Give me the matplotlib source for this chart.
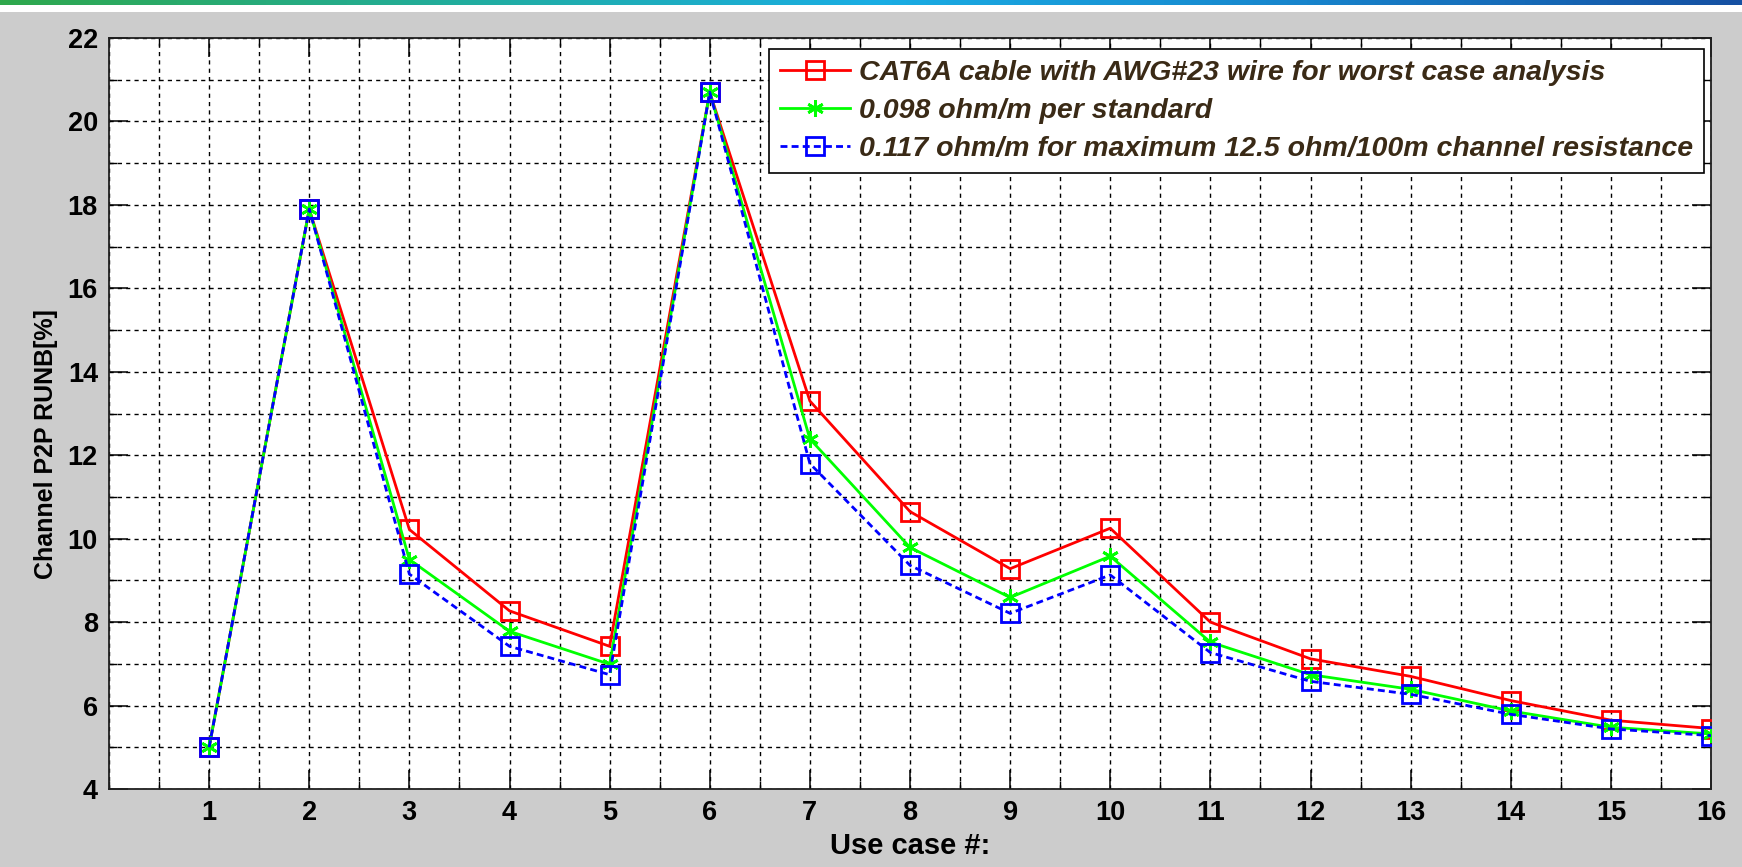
import numpy as np
import matplotlib
matplotlib.use("Agg")
import matplotlib.pyplot as plt
from matplotlib.ticker import MultipleLocator
from matplotlib.colors import LinearSegmentedColormap
from matplotlib.patches import Rectangle

# ---- data ----
cases = list(range(1, 17))
cat6a_awg23 = [5.0, 17.9, 10.22, 8.27, 7.42, 20.7, 13.3, 10.65, 9.28, 10.25, 8.0, 7.12, 6.7, 6.12, 5.65, 5.45]
std_0098 = [5.0, 17.9, 9.5, 7.78, 6.99, 20.7, 12.39, 9.79, 8.59, 9.58, 7.52, 6.74, 6.39, 5.87, 5.48, 5.32]
max_0117 = [5.0, 17.9, 9.15, 7.42, 6.74, 20.7, 11.8, 9.36, 8.21, 9.13, 7.27, 6.58, 6.27, 5.79, 5.44, 5.28]
series_labels = [
    "CAT6A cable with AWG#23 wire for worst case analysis",
    "0.098 ohm/m per standard",
    "0.117 ohm/m for maximum 12.5 ohm/100m channel resistance",
]
x_ticks = list(range(1, 17))
y_ticks = list(range(4, 23, 2))
x_label = "Use case #:"
y_label = "Channel P2P RUNB[%]"

plt.rcParams['font.family'] = ['Liberation Sans', 'DejaVu Sans']
plt.rcParams['font.weight'] = 'bold'
plt.rcParams['lines.scale_dashes'] = False

W, H = 1742, 867
fig = plt.figure(figsize=(W / 100, H / 100), dpi=100, facecolor='#cccccc')

# top gradient band
band = fig.add_axes([0, 1 - 5 / H, 1, 5 / H])
cmap = LinearSegmentedColormap.from_list(
    'band', ['#2fa84c', '#22ad9a', '#1aaee4', '#1784cc', '#1550a2'])
band.imshow(np.linspace(0, 1, 512)[None, :], aspect='auto', cmap=cmap,
            extent=[0, 1, 0, 1])
band.set_axis_off()
fig.patches.append(Rectangle((0, 1 - 12 / H), 1, 7 / H, transform=fig.transFigure,
                             facecolor='white', edgecolor='none', zorder=0))

L, R, T, B = 109, 1711, 38, 789
ax = fig.add_axes([L / W, (H - B) / H, (R - L) / W, (B - T) / H])
ax.set_facecolor('white')

ax.plot(cases, cat6a_awg23, color='#ff0000', lw=2.0, marker='s', ms=13,
        mfc='none', mec='#ff0000', mew=2.0, label=series_labels[0], zorder=3)
ax.plot(cases, std_0098, color='#00ff00', lw=2.0, marker=(6, 2, 0), ms=12,
        mec='#00ff00', mew=2.0, label=series_labels[1], zorder=4)
ax.plot(cases, max_0117, color='#0000ff', lw=2.0, ls=(0, (5, 3)), marker='s', ms=13,
        mfc='none', mec='#0000ff', mew=2.0, label=series_labels[2], zorder=5)

ax.set_xlim(0, 16)
ax.set_ylim(4, 22)
ax.set_xticks(x_ticks)
ax.set_yticks(y_ticks)
ax.xaxis.set_minor_locator(MultipleLocator(0.5))
ax.yaxis.set_minor_locator(MultipleLocator(1))
ax.tick_params(which='major', direction='in', length=14, width=1.1, top=True, right=True,
               labelsize=19.5, pad=8, colors='black')
ax.tick_params(which='minor', direction='in', length=6, width=1.0, top=True, right=True)
ax.grid(which='both', color='black', lw=1.0, ls=(0, (3, 3)))
for s in ax.spines.values():
    s.set_linewidth(1.3)
    s.set_color('#202020')

ax.set_xlabel(x_label, fontsize=21, fontweight='bold', labelpad=4)
ax.set_ylabel(y_label, fontsize=18, fontweight='bold')
ax.yaxis.set_label_coords((58 - L) / (R - L), 1 - (444 - T) / (B - T))

leg = ax.legend(loc='upper right', bbox_to_anchor=((1704 - L) / (R - L), 1 - (49 - T) / (B - T)),
                borderaxespad=0, handlelength=2.45, handletextpad=0.32,
                labelspacing=0.42, borderpad=0.38, fancybox=False, framealpha=1,
                edgecolor='black', prop={'style': 'italic', 'weight': 'bold', 'size': 20.5})
leg.get_frame().set_linewidth(1.2)
for t in leg.get_texts():
    t.set_color('#3a2a16')

fig.savefig('out.png', dpi=100, facecolor=fig.get_facecolor())
